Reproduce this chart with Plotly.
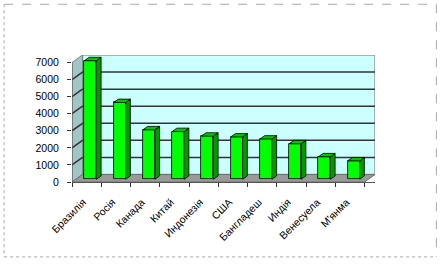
import plotly.graph_objects as go

# ---- data ----
countries = ["Бразилія", "Росія", "Канада", "Китай", "Индонезія", "США",
             "Бангладеш", "Индія", "Венесуела", "М'янма"]
values = [6950, 4500, 2900, 2800, 2530, 2480, 2360, 2085, 1320, 1080]
y_ticks = [0, 1000, 2000, 3000, 4000, 5000, 6000, 7000]

# ---- layout geometry (pixels) ----
W, H = 444, 265
X_LEFT = 72.0          # front-left of plot
X_FRONT_RIGHT = 365.0  # front-right of floor
Y_ZERO = 182.0         # y pixel of value 0 (front)
Y_TOP = 62.3           # y pixel of value 7000 (front)
DEPTH_DX_PX, DEPTH_DY_PX = 10.5, 7.5

n = len(countries)
px_per_x = (X_FRONT_RIGHT - X_LEFT) / n
px_per_y = (Y_ZERO - Y_TOP) / y_ticks[-1]
dx = DEPTH_DX_PX / px_per_x
dy = DEPTH_DY_PX / px_per_y

xr = [-0.5, n - 0.5 + dx]
yr = [0, y_ticks[-1] + dy]
plot_w = (xr[1] - xr[0]) * px_per_x
plot_h = (yr[1] - yr[0]) * px_per_y
m_l = X_LEFT
m_r = W - X_LEFT - plot_w
m_b = H - Y_ZERO
m_t = H - m_b - plot_h

F0 = 0.36      # depth fraction of bar front face
BD = 0.45      # bar depth fraction
BW = 12.0 / px_per_x
base = F0 * dy
xc = [i + F0 * dx for i in range(n)]

fig = go.Figure()

# front faces
fig.add_trace(go.Bar(x=xc, y=values, base=base, width=BW,
                     marker=dict(color="#00FF00", line=dict(color="#000000", width=0.8)),
                     hoverinfo="skip", showlegend=False))

bdx, bdy = BD * dx, BD * dy
sx, sy, tx, ty = [], [], [], []
for c, v in zip(xc, values):
    xl, xrr = c - BW / 2, c + BW / 2
    top = v + base
    sx += [xrr, xrr + bdx, xrr + bdx, xrr, xrr, None]
    sy += [base, base + bdy, top + bdy, top, base, None]
    tx += [xl, xl + bdx, xrr + bdx, xrr, xl, None]
    ty += [top, top + bdy, top + bdy, top, top, None]

fig.add_trace(go.Scatter(x=sx, y=sy, mode="lines", fill="toself", fillcolor="#009A00",
                         line=dict(color="#000000", width=0.8), hoverinfo="skip",
                         showlegend=False))
fig.add_trace(go.Scatter(x=tx, y=ty, mode="lines", fill="toself", fillcolor="#00C800",
                         line=dict(color="#000000", width=0.8), hoverinfo="skip",
                         showlegend=False))

shapes = []
x0, x1 = -0.5, n - 0.5
ymax = y_ticks[-1]
# back wall
shapes.append(dict(type="rect", xref="x", yref="y", x0=x0 + dx, x1=x1 + dx, y0=dy, y1=ymax + dy,
                   fillcolor="#CCFFFF", line=dict(color="#9A9A9A", width=1.5), layer="below"))
# left wall
shapes.append(dict(type="path", xref="x", yref="y",
                   path=f"M {x0},0 L {x0},{ymax} L {x0+dx},{ymax+dy} L {x0+dx},{dy} Z",
                   fillcolor="#A2C6C6", line=dict(color="#7A8A8A", width=1), layer="below"))
# floor
shapes.append(dict(type="path", xref="x", yref="y",
                   path=f"M {x0},0 L {x1},0 L {x1+dx},{dy} L {x0+dx},{dy} Z",
                   fillcolor="#999999", line=dict(color="#6E6E6E", width=1), layer="below"))
# gridlines
for t in y_ticks[1:-1]:
    shapes.append(dict(type="line", xref="x", yref="y", x0=x0 + dx, x1=x1 + dx, y0=t + dy, y1=t + dy,
                       line=dict(color="#333333", width=1.5), layer="below"))
    shapes.append(dict(type="line", xref="x", yref="y", x0=x0, x1=x0 + dx, y0=t, y1=t + dy,
                       line=dict(color="#333333", width=1.5), layer="below"))
# front axis lines
shapes.append(dict(type="line", xref="x", yref="y", x0=x0, x1=x0, y0=0, y1=ymax,
                   line=dict(color="#555555", width=1), layer="below"))

# dotted/dashed border around the chart object
def px2paper_x(p):
    return (p - m_l) / plot_w

def px2paper_y(p):
    return (H - m_b - p) / plot_h

bl, br, bt, bb = px2paper_x(4), px2paper_x(437), px2paper_y(4), px2paper_y(257)
shapes += [
    dict(type="line", xref="paper", yref="paper", x0=bl, x1=br, y0=bt, y1=bt,
         line=dict(color="#A8A8A8", width=1, dash="dash")),
    dict(type="line", xref="paper", yref="paper", x0=br, x1=br, y0=bt, y1=bb,
         line=dict(color="#A8A8A8", width=1, dash="dash")),
    dict(type="line", xref="paper", yref="paper", x0=bl, x1=bl, y0=bt, y1=bb,
         line=dict(color="#A8A8A8", width=1, dash="dot")),
    dict(type="line", xref="paper", yref="paper", x0=bl, x1=br, y0=bb, y1=bb,
         line=dict(color="#A8A8A8", width=1, dash="dot")),
]

fig.update_layout(
    width=W, height=H,
    margin=dict(l=m_l, r=m_r, t=m_t, b=m_b, pad=0, autoexpand=False),
    paper_bgcolor="white", plot_bgcolor="white",
    font=dict(family="Arial, Liberation Sans, sans-serif", size=10, color="black"),
    shapes=shapes,
    bargap=0,
    xaxis=dict(range=xr, tickvals=[i - 0.12 for i in range(n)], ticktext=countries,
               tickangle=-45, ticks="", showgrid=False, zeroline=False,
               showline=True, linecolor="#555555", linewidth=1, ticklabelstandoff=9,
               minor=dict(tickvals=[x0 + k for k in range(n + 1)], ticks="outside",
                          ticklen=4, tickcolor="#333333", showgrid=False),
               tickfont=dict(size=10.5)),
    yaxis=dict(range=yr, tickvals=y_ticks, ticks="outside", ticklen=4, tickcolor="#333333",
               showgrid=False, zeroline=False, showline=False, ticklabelstandoff=6,
               tickfont=dict(size=10.5)),
)

fig.write_html("out.html")
